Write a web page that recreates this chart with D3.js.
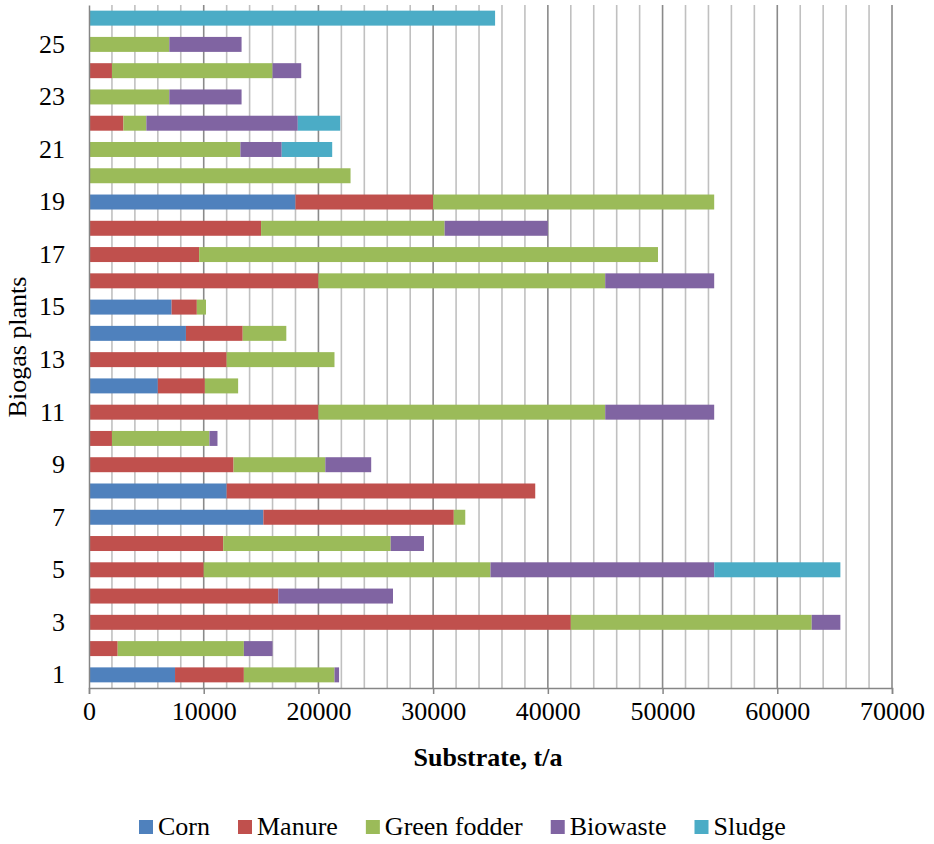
<!DOCTYPE html>
<html>
<head>
<meta charset="utf-8">
<script src="https://cdn.jsdelivr.net/npm/d3@7"></script>
<style>
  html, body { margin: 0; padding: 0; background: #fff; }
  svg { display: block; font-family: "Liberation Serif", "Times New Roman", serif; }
</style>
</head>
<body>
<svg id="chart" width="934" height="844"></svg>
<script>
// ---- Data ----
const plants = ["1","2","3","4","5","6","7","8","9","10","11","12","13","14","15","16","17","18","19","20","21","22","23","24","25","26"];
const yTickLabels = ["1","3","5","7","9","11","13","15","17","19","21","23","25"];
const seriesNames = ["Corn", "Manure", "Green fodder", "Biowaste", "Sludge"];
const seriesColors = ["#4F81BD", "#C0504D", "#9BBB59", "#8064A2", "#4BACC6"];
const corn        = [7500, 0, 0, 0, 0, 0, 15200, 12000, 0, 0, 0, 6000, 0, 8450, 7200, 0, 0, 0, 18000, 0, 0, 0, 0, 0, 0, 0];
const manure      = [6000, 2500, 42000, 16500, 10000, 11700, 16600, 26900, 12600, 2000, 20000, 4100, 12000, 4950, 2200, 20000, 9600, 15000, 12000, 0, 0, 3000, 0, 2000, 0, 0];
const greenFodder = [7900, 11000, 21000, 0, 25000, 14600, 1000, 0, 8000, 8500, 25000, 2900, 9400, 3800, 800, 25000, 40000, 16000, 24500, 22800, 13200, 2000, 7000, 14000, 7000, 0];
const biowaste    = [400, 2500, 2500, 10000, 19500, 2900, 0, 0, 4000, 700, 9500, 0, 0, 0, 0, 9500, 0, 9000, 0, 0, 3600, 13200, 6300, 2500, 6300, 0];
const sludge      = [0, 0, 0, 0, 11000, 0, 0, 0, 0, 0, 0, 0, 0, 0, 0, 0, 0, 0, 0, 0, 4400, 3700, 0, 0, 0, 35400];
const xTicks = [0, 10000, 20000, 30000, 40000, 50000, 60000, 70000];
const xMinorStep = 2000;
const xTitle = "Substrate, t/a";
const yTitle = "Biogas plants";

(function () {
// ---- Build table ----
const seriesValues = [corn, manure, greenFodder, biowaste, sludge];
const table = plants.map((p, i) => {
  const row = { plant: p };
  seriesNames.forEach((s, k) => row[s] = seriesValues[k][i]);
  return row;
});
const stacked = d3.stack().keys(seriesNames)(table);

// ---- Layout ----
const svg = d3.select("#chart");
const pL = 89, pR = 892, pT = 5, pB = 688;
const x = d3.scaleLinear().domain([0, 70000]).range([pL, pR]);
const y = d3.scaleBand().domain(plants.slice().reverse()).range([pT, pB])
  .paddingInner(0.43).paddingOuter(0.215);
const color = d3.scaleOrdinal().domain(seriesNames).range(seriesColors);

// Grid lines
const minor = d3.range(xMinorStep, 70000 + 1, xMinorStep).filter(v => v % 10000 !== 0);
svg.append("g").selectAll("line").data(minor).join("line")
  .attr("x1", d => x(d)).attr("x2", d => x(d))
  .attr("y1", pT).attr("y2", pB)
  .attr("stroke", "#c0c0c0").attr("stroke-width", 1.6);
svg.append("g").selectAll("line").data(xTicks.filter(v => v > 0)).join("line")
  .attr("x1", d => x(d)).attr("x2", d => x(d))
  .attr("y1", pT).attr("y2", pB)
  .attr("stroke", "#8a8a8a").attr("stroke-width", 1.6);

// Bars
svg.append("g").selectAll("g").data(stacked).join("g")
  .attr("fill", d => color(d.key))
  .selectAll("rect").data(d => d.filter(s => s[1] - s[0] > 0)).join("rect")
  .attr("x", d => x(d[0]))
  .attr("width", d => x(d[1]) - x(d[0]))
  .attr("y", d => y(d.data.plant))
  .attr("height", y.bandwidth());

// X axis
const xAxis = svg.append("g").attr("transform", `translate(0,${pB})`)
  .call(d3.axisBottom(x).tickValues(xTicks).tickFormat(d3.format("d")).tickSize(6).tickPadding(8));
xAxis.select(".domain").attr("stroke", "#868686").attr("stroke-width", 1.5);
xAxis.selectAll(".tick line").attr("stroke", "#868686").attr("stroke-width", 1.5);
xAxis.selectAll(".tick text").attr("font-size", 26).attr("fill", "#000")
  .attr("font-family", "Liberation Serif, serif");

// Y axis
const yAxis = svg.append("g").attr("transform", `translate(${pL},0)`)
  .call(d3.axisLeft(y).tickValues(yTickLabels).tickSize(0).tickPadding(24));
yAxis.select(".domain").attr("stroke", "#868686").attr("stroke-width", 1.5);
yAxis.selectAll(".tick text").attr("font-size", 26).attr("fill", "#000")
  .attr("font-family", "Liberation Serif, serif");

// Titles
svg.append("text").attr("x", 488).attr("y", 766).attr("text-anchor", "middle")
  .attr("font-size", 26).attr("font-weight", "bold").text(xTitle);
svg.append("text").attr("transform", "translate(26,347) rotate(-90)")
  .attr("text-anchor", "middle").attr("font-size", 26).text(yTitle);

// Legend
const legend = svg.append("g");
let lx = 139;
seriesNames.forEach((s, k) => {
  legend.append("rect").attr("x", lx).attr("y", 820).attr("width", 14).attr("height", 14)
    .attr("fill", seriesColors[k]);
  const t = legend.append("text").attr("x", lx + 19).attr("y", 835)
    .attr("font-size", 26).text(s);
  lx += 19 + t.node().getComputedTextLength() + 28;
});
})();
</script>
</body>
</html>
